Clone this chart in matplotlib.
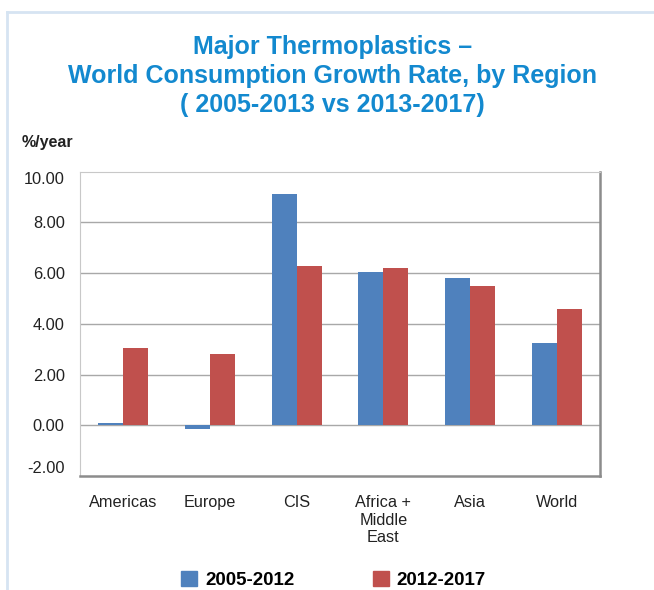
import numpy as np
import matplotlib.pyplot as plt
from matplotlib.patches import Patch
from matplotlib.lines import Line2D

plt.rcParams['font.family'] = ['Liberation Sans', 'DejaVu Sans']

regions = ['Americas', 'Europe', 'CIS', 'Africa +\nMiddle\nEast', 'Asia', 'World']
growth_2005_2012 = [0.08, -0.16, 9.12, 6.03, 5.80, 3.24]
growth_2012_2017 = [3.06, 2.83, 6.30, 6.19, 5.48, 4.59]
series_labels = ['2005-2012', '2012-2017']
y_ticks = [-2, 0, 2, 4, 6, 8, 10]

blue = '#4f81bd'
red = '#c0504d'
title_blue = '#1389cf'

fig = plt.figure(figsize=(6.54, 5.9), dpi=100)

# thin light-blue frame around the panel (top and left edges)
fig.add_artist(Line2D([6.5 / 654, 1.0], [1 - 12 / 590, 1 - 12 / 590], color='#d6e4f2', lw=2))
fig.add_artist(Line2D([6.5 / 654, 6.5 / 654], [0, 1 - 12 / 590], color='#d6e4f2', lw=2))

fig.text(0.508, 1 - 76 / 590, 'Major Thermoplastics –\nWorld Consumption Growth Rate, by Region\n( 2005-2013 vs 2013-2017)',
         ha='center', va='center', color=title_blue, fontsize=18, fontweight='bold', linespacing=1.27)

fig.text(22 / 654, 1 - 142 / 590, '%/year', ha='left', va='center', fontsize=11.5, fontweight='bold', color='#222222')

ax = fig.add_axes([80 / 654, 114 / 590, 520 / 654, 304.3 / 590])

x = np.arange(len(regions))
w = 0.29
ax.bar(x - w / 2, growth_2005_2012, w, color=blue, zorder=3)
ax.bar(x + w / 2, growth_2012_2017, w, color=red, zorder=3)

ax.set_xlim(-0.5, len(regions) - 0.5)
ax.set_ylim(-2, 10)
ax.set_yticks(y_ticks)
ax.set_yticklabels([f'{v:.2f}' for v in y_ticks], fontsize=11.8)
ax.set_xticks(x)
ax.set_xticklabels(regions, linespacing=1.2, fontsize=11.7)
ax.tick_params(axis='both', length=0, labelcolor='#222222')
ax.tick_params(axis='x', pad=14)
ax.tick_params(axis='y', pad=11)

# end labels sit a little inside the plot frame
ylabels = ax.get_yticklabels()
ylabels[0].set_va('bottom')
ylabels[-1].set_va('top')

for v in y_ticks[1:-1]:
    ax.axhline(v, color='#a8a8a8', lw=1, zorder=1)

ax.spines['left'].set_color('#c8c8c8')
ax.spines['top'].set_color('#c8c8c8')
ax.spines['right'].set_color('#8c8c8c')
ax.spines['bottom'].set_color('#8c8c8c')
ax.spines['right'].set_linewidth(1.8)
ax.spines['bottom'].set_linewidth(1.8)

handles = [Patch(color=blue), Patch(color=red)]
fig.legend(handles, series_labels, loc='center', bbox_to_anchor=(0.51, 10 / 590), ncol=2, frameon=False,
           prop={'weight': 'bold', 'size': 13.5}, handlelength=0.85, handleheight=0.85,
           handletextpad=0.4, columnspacing=4.2, borderaxespad=0)

fig.savefig('out.png', dpi=100)
